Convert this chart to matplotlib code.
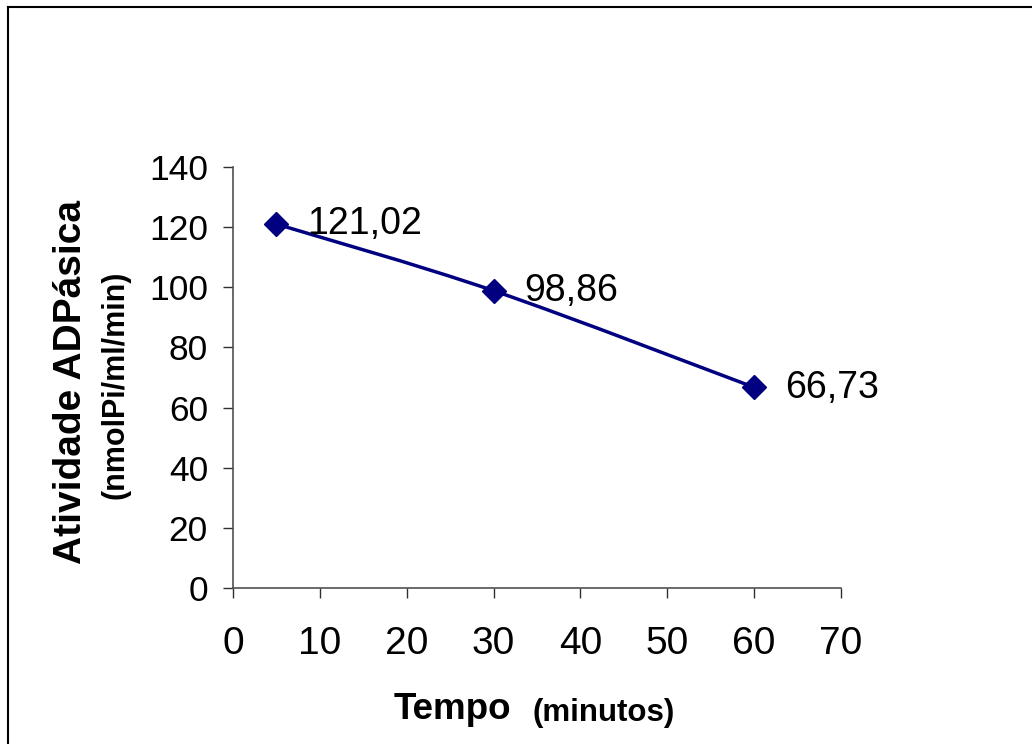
import matplotlib
matplotlib.use('Agg')
import matplotlib.pyplot as plt
from matplotlib.path import Path
from matplotlib.patches import PathPatch
from matplotlib.lines import Line2D
import numpy as np

plt.rcParams['font.family'] = ['Liberation Sans', 'DejaVu Sans']

# dados
tempo = [5, 30, 60]
atividade = [121.02, 98.86, 66.73]
rotulos = ['121,02', '98,86', '66,73']
xticks = [0, 10, 20, 30, 40, 50, 60, 70]
yticks = [0, 20, 40, 60, 80, 100, 120, 140]

cor = '#000080'

fig = plt.figure(figsize=(10.32, 7.44), dpi=100)
ax = fig.add_axes([233 / 1032, 1 - 588 / 744, 608 / 1032, 421 / 744])

# linha suavizada (Bezier estilo Excel) a partir dos pontos
pts = np.column_stack([tempo, atividade])
ext = np.vstack([pts[0], pts, pts[-1]])
verts = [tuple(pts[0])]
codes = [Path.MOVETO]
for i in range(len(pts) - 1):
    p0, p1, p2, p3 = ext[i], ext[i + 1], ext[i + 2], ext[i + 3]
    c1 = p1 + (p2 - p0) / 6
    c2 = p2 - (p3 - p1) / 6
    verts += [tuple(c1), tuple(c2), tuple(p2)]
    codes += [Path.CURVE4] * 3
ax.add_patch(PathPatch(Path(verts, codes), facecolor='none', edgecolor=cor, lw=2.5))

ax.plot(tempo, atividade, linestyle='none', marker='D', ms=12, color=cor, zorder=3)

for x, y, t in zip(tempo, atividade, rotulos):
    ax.annotate(t, (x, y), xytext=(22, -7.5), textcoords='offset points',
                ha='left', va='baseline', fontsize=27)

ax.set_xlim(0, 70)
ax.set_ylim(0, 140)
ax.set_xticks(xticks)
ax.set_yticks(yticks)
ax.spines['top'].set_visible(False)
ax.spines['right'].set_visible(False)
for s in ['left', 'bottom']:
    ax.spines[s].set_color('#505050')
    ax.spines[s].set_linewidth(1.2)
ax.tick_params(axis='both', direction='out', length=7, width=1, color='#303030')
ax.tick_params(axis='x', labelsize=28, pad=20)
ax.tick_params(axis='y', labelsize=25.5, pad=11)

# rótulos dos eixos
fig.text(71 / 1032, 1 - 382 / 744, 'Atividade ADPásica', rotation=90,
         ha='center', va='center', fontsize=28, fontweight='bold')
fig.text(115 / 1032, 1 - 385 / 744, '(nmolPi/ml/min)', rotation=90,
         ha='center', va='center', fontsize=22, fontweight='bold')
fig.text(394 / 1032, 1 - 719 / 744, 'Tempo', ha='left', va='baseline',
         fontsize=26.5, fontweight='bold')
fig.text(532 / 1032, 1 - 721 / 744, '(minutos)', ha='left', va='baseline',
         fontsize=22.5, fontweight='bold')

# moldura (cortada à direita e embaixo)
fig.add_artist(Line2D([8 / 1032, 8 / 1032], [0, 1 - 7 / 744], color='black', lw=1.5))
fig.add_artist(Line2D([8 / 1032, 1], [1 - 7 / 744, 1 - 7 / 744], color='black', lw=1.5))

fig.savefig('out.png', dpi=100)
